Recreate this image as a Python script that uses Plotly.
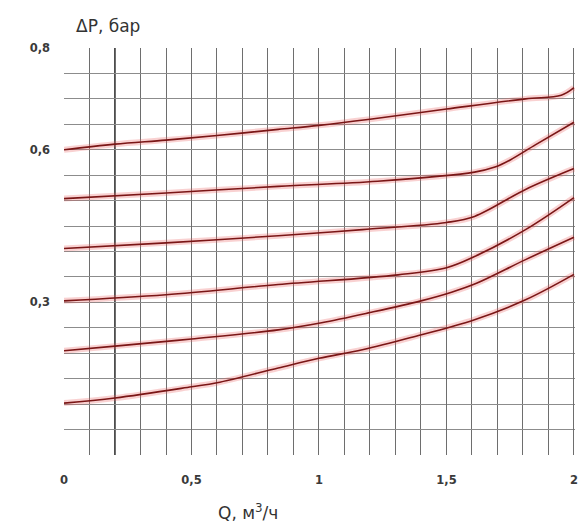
import plotly.graph_objects as go

# Q, m3/h sample positions and ΔP (bar) values per curve
q1 = [0.0, 0.2, 0.4, 0.6, 0.84, 1.0, 1.2, 1.5, 1.81, 1.95, 2.0]
p1 = [0.600, 0.611, 0.619, 0.628, 0.640, 0.648, 0.660, 0.680, 0.700, 0.707, 0.722]

q2 = [0.0, 0.4, 0.84, 1.23, 1.61, 1.69, 1.75, 1.85, 2.0]
p2 = [0.504, 0.515, 0.528, 0.538, 0.556, 0.566, 0.580, 0.610, 0.654]

q3 = [0.0, 0.4, 0.84, 1.17, 1.5, 1.61, 1.81, 2.0]
p3 = [0.406, 0.417, 0.431, 0.443, 0.457, 0.469, 0.522, 0.563]

q4 = [0.0, 0.4, 0.84, 1.31, 1.5, 1.61, 1.81, 2.0]
p4 = [0.303, 0.315, 0.335, 0.354, 0.368, 0.390, 0.443, 0.506]

q5 = [0.0, 0.2, 0.5, 0.84, 1.01, 1.2, 1.4, 1.52, 1.62, 1.81, 2.0]
p5 = [0.205, 0.214, 0.228, 0.246, 0.260, 0.280, 0.303, 0.320, 0.338, 0.384, 0.428]

q6 = [0.0, 0.2, 0.5, 0.6, 0.84, 1.0, 1.17, 1.36, 1.61, 1.81, 2.0]
p6 = [0.102, 0.112, 0.134, 0.142, 0.171, 0.190, 0.207, 0.231, 0.266, 0.305, 0.355]

curves = [(q1, p1), (q2, p2), (q3, p3), (q4, p4), (q5, p5), (q6, p6)]

x_tickvals = [0, 0.5, 1, 1.5, 2]
x_ticktext = ["0", "0,5", "1", "1,5", "2"]
y_tickvals = [0.3, 0.6, 0.8]
y_ticktext = ["0,3", "0,6", "0,8"]
highlight_q = 0.2

fig = go.Figure()
for q, p in curves:
    fig.add_trace(go.Scatter(x=q, y=p, mode="lines", line=dict(color="rgba(235,90,90,0.28)", width=6, shape="spline"),
                             hoverinfo="skip", showlegend=False, cliponaxis=False))
    fig.add_trace(go.Scatter(x=q, y=p, mode="lines", line=dict(color="#7a1616", width=1.6, shape="spline"),
                             showlegend=False, cliponaxis=False))

fig.add_vline(x=highlight_q, line=dict(color="#222222", width=1.6), layer="below")

tickfont = dict(family="DejaVu Sans", size=11.5, color="#3a3a3a", weight="bold")
fig.update_xaxes(range=[0, 2.004], tickmode="array", tickvals=x_tickvals, ticktext=x_ticktext,
                 showgrid=True, gridcolor="#6e6e6e", gridwidth=1, zeroline=False,
                 minor=dict(dtick=0.1, tick0=0, showgrid=True, gridcolor="#6e6e6e", gridwidth=1),
                 ticks="", ticklabelstandoff=16, tickfont=tickfont, showline=False)
fig.update_yaxes(range=[0, 0.8], tickmode="array", tickvals=y_tickvals, ticktext=y_ticktext,
                 showgrid=True, gridcolor="#8c8c8c", gridwidth=1, zeroline=False,
                 minor=dict(dtick=0.05, tick0=0, showgrid=True, gridcolor="#8c8c8c", gridwidth=1),
                 ticks="", ticklabelstandoff=13, tickfont=tickfont, showline=False)

fig.add_annotation(text="ΔP, бар", xref="paper", yref="paper", x=0.02, y=1.025, xanchor="left", yanchor="bottom",
                   showarrow=False, font=dict(family="DejaVu Sans", size=17, color="#333333"))
fig.add_annotation(text="Q, м<sup>3</sup>/ч", xref="paper", yref="paper", x=0.36, y=-0.14, xanchor="center", yanchor="middle",
                   showarrow=False, font=dict(family="DejaVu Sans", size=17, color="#333333"))

fig.update_layout(width=584, height=530, margin=dict(l=64, r=6, t=48, b=75),
                  plot_bgcolor="white", paper_bgcolor="white")
fig.write_html("out.html", config={"displayModeBar": False},
               post_script="document.body.style.margin='0';document.body.style.overflow='hidden';")
